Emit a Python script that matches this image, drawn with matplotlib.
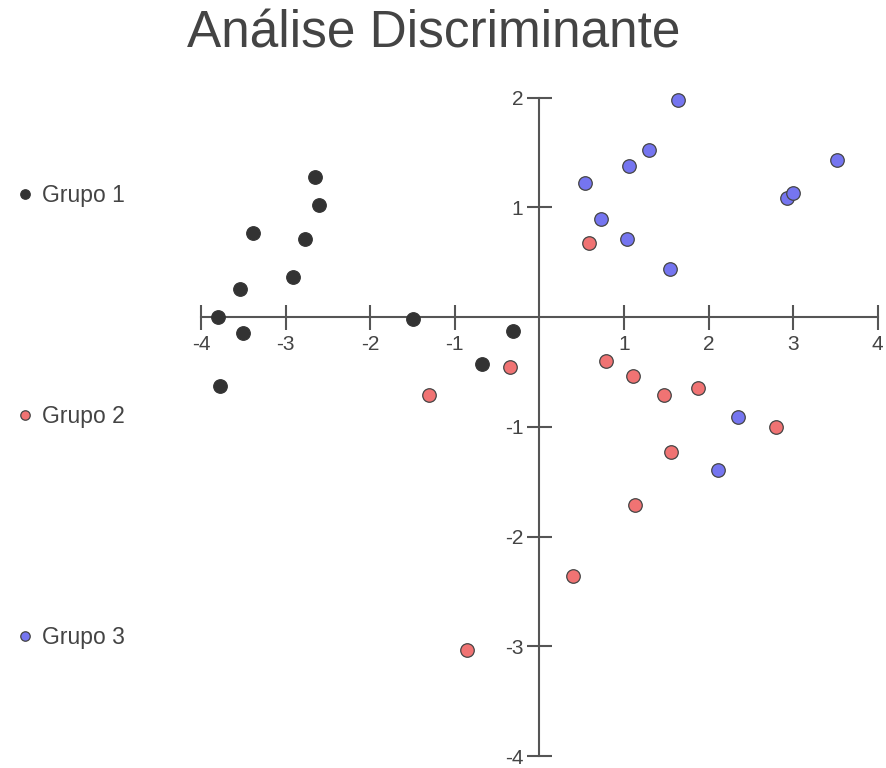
import matplotlib
matplotlib.use("Agg")
import matplotlib.pyplot as plt
from matplotlib.lines import Line2D

plt.rcParams['font.family'] = ['Liberation Sans', 'DejaVu Sans']

# Discriminant scores (function 1, function 2) per group
grupo1_x = [-2.65, -2.60, -3.38, -2.77, -2.91, -3.54, -3.80, -3.50, -1.49, -0.31, -0.68, -3.78]
grupo1_y = [1.275, 1.02, 0.764, 0.71, 0.365, 0.257, 0.0, -0.142, -0.02, -0.127, -0.43, -0.624]

grupo2_x = [0.59, 0.786, 1.11, 1.475, 1.88, 2.795, 1.554, 1.13, 0.403, -0.85, -1.30, -0.345]
grupo2_y = [0.674, -0.40, -0.535, -0.71, -0.65, -0.997, -1.23, -1.71, -2.357, -3.03, -0.71, -0.453]

grupo3_x = [1.637, 1.30, 1.065, 0.545, 0.73, 1.04, 1.54, 3.524, 2.925, 2.996, 2.353, 2.117]
grupo3_y = [1.979, 1.526, 1.381, 1.218, 0.891, 0.71, 0.438, 1.435, 1.088, 1.127, -0.907, -1.396]

labels = ["Grupo 1", "Grupo 2", "Grupo 3"]
x_ticks = [-4, -3, -2, -1, 1, 2, 3, 4]
y_ticks = [-4, -3, -2, -1, 1, 2]

fills = ["#333333", "#f07373", "#7575f0"]
edges = ["#333333", "#444444", "#444444"]
text_color = "#444444"
axis_color = "#555555"

W, H = 886, 768
fig = plt.figure(figsize=(W / 100, H / 100), dpi=100)
ax = fig.add_axes([201 / W, 1 - 756 / H, 676.7 / W, (756 - 97.7) / H])

groups = [(grupo1_x, grupo1_y), (grupo2_x, grupo2_y), (grupo3_x, grupo3_y)]
for (gx, gy), fc, ec in zip(groups, fills, edges):
    ax.scatter(gx, gy, s=95, c=fc, edgecolors=ec, linewidths=0.9,
               zorder=3, clip_on=False)

ax.set_xlim(-4, 4)
ax.set_ylim(-4, 2)

# Axes crossing at the origin
for side in ("top", "right"):
    ax.spines[side].set_visible(False)
ax.spines["left"].set_position(("data", 0))
ax.spines["bottom"].set_position(("data", 0))
for side in ("left", "bottom"):
    ax.spines[side].set_color(axis_color)
    ax.spines[side].set_linewidth(1.5)

ax.set_xticks(x_ticks)
ax.set_yticks(y_ticks)
ax.set_xticklabels([str(t) for t in x_ticks])
ax.set_yticklabels([str(t) for t in y_ticks])
ax.tick_params(axis="both", direction="inout", length=18, width=1.5,
               color=axis_color, labelsize=15, labelcolor=text_color)
ax.tick_params(axis="x", pad=4.0)
ax.tick_params(axis="y", pad=2.5)
ax.patch.set_visible(False)

fig.text(434 / W, 1 - 48 / H, "Análise Discriminante", ha="center",
         va="baseline", fontsize=37, color=text_color)

handles = [Line2D([], [], linestyle="none", marker="o", markersize=6.8,
                  markerfacecolor=fc, markeredgecolor=ec, markeredgewidth=0.9)
           for fc, ec in zip(fills, edges)]
leg = fig.legend(handles, labels, loc="center left",
                 bbox_to_anchor=(13.5 / W, 1 - 416.5 / H), frameon=False,
                 fontsize=16.5, labelspacing=8.64, handlelength=1.0,
                 handletextpad=0.24, borderpad=0, borderaxespad=0)
for t in leg.get_texts():
    t.set_color(text_color)

fig.savefig("out.png", dpi=100)
